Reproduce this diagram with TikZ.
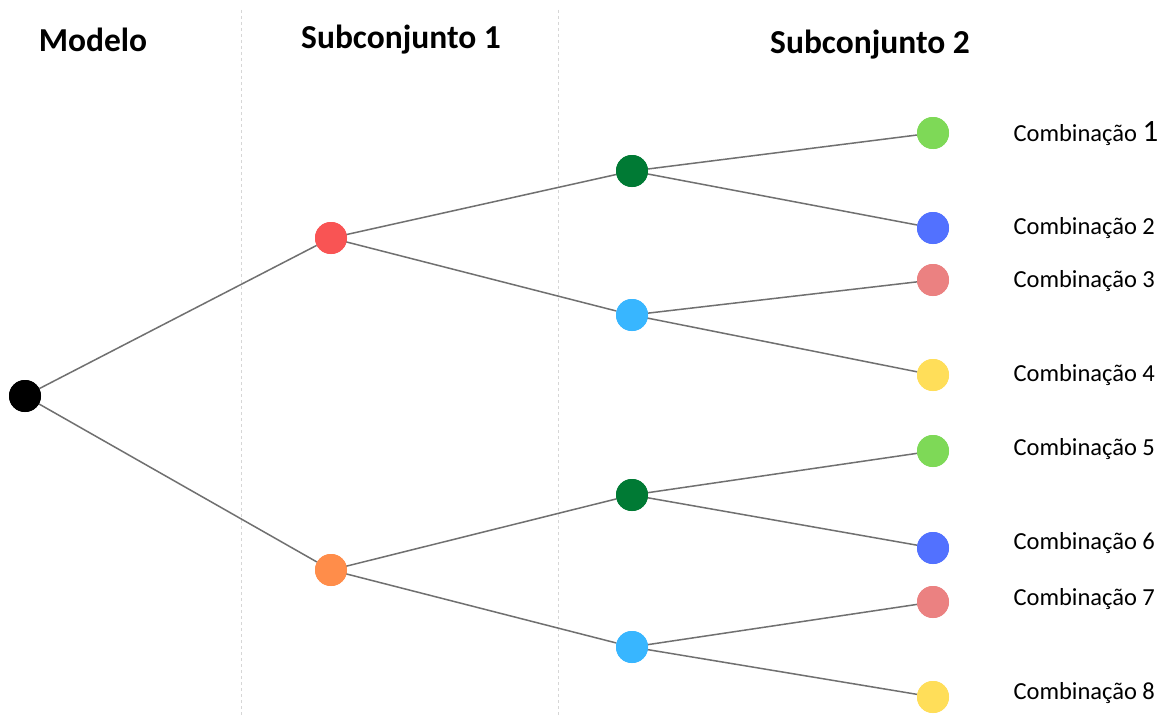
\documentclass[tikz,border=0pt]{standalone}
\usepackage{fontspec}
\setmainfont{Carlito}
\begin{document}
\begin{tikzpicture}[x=1pt,y=-1pt,
  dot/.style={circle,inner sep=0pt,minimum size=32pt,draw=none},
  edge/.style={draw=black!56,line width=1.5pt},
  sep/.style={draw=black!16,line width=0.7pt,dash pattern=on 3pt off 3pt},
  head/.style={font=\fontsize{33.5}{38}\selectfont\bfseries,anchor=center},
  combo/.style={font=\fontsize{24.5}{29}\selectfont,anchor=west}]
\definecolor{cRed}{HTML}{F95454}
\definecolor{cOrange}{HTML}{FF8D4A}
\definecolor{cDark}{HTML}{007A34}
\definecolor{cSky}{HTML}{38B6FF}
\definecolor{cLime}{HTML}{7ED957}
\definecolor{cBlue}{HTML}{5271FF}
\definecolor{cPink}{HTML}{EB8181}
\definecolor{cYellow}{HTML}{FFDE59}
\useasboundingbox (0,0) rectangle (1167,717);
\fill[white] (0,0) rectangle (1167,717);
% column separators
\coordinate (s1t) at (241,10); \coordinate (s1b) at (241,716);
\coordinate (s2t) at (558,10); \coordinate (s2b) at (558,716);
\draw[sep] (s1t) -- (s1b);
\draw[sep] (s2t) -- (s2b);
% headers
\node[head] (h0) at (93,40) {Modelo};
\node[head] (h1) at (401,40) {Subconjunto 1};
\node[head] (h2) at (870,45) {Subconjunto 2};
% tree nodes
\node[dot,fill=black] (r) at (25,396) {};
\node[dot,fill=cRed] (a) at (331,238) {};
\node[dot,fill=cOrange] (b) at (331,570) {};
\node[dot,fill=cDark] (a1) at (632,171) {};
\node[dot,fill=cSky] (a2) at (632,315) {};
\node[dot,fill=cDark] (b1) at (632,495) {};
\node[dot,fill=cSky] (b2) at (632,647) {};
\node[dot,fill=cLime] (l1) at (933,133) {};
\node[dot,fill=cBlue] (l2) at (933,228) {};
\node[dot,fill=cPink] (l3) at (933,280) {};
\node[dot,fill=cYellow] (l4) at (933,375) {};
\node[dot,fill=cLime] (l5) at (933,451) {};
\node[dot,fill=cBlue] (l6) at (933,548) {};
\node[dot,fill=cPink] (l7) at (933,602) {};
\node[dot,fill=cYellow] (l8) at (933,697) {};
% connectors
\foreach \p/\c in {r/a,r/b,a/a1,a/a2,b/b1,b/b2,a1/l1,a1/l2,a2/l3,a2/l4,b1/l5,b1/l6,b2/l7,b2/l8}
  \draw[edge] (\p.center) -- (\c);
% dots painted again over the line ends
\foreach \n/\col in {r/black,a/cRed,b/cOrange,a1/cDark,a2/cSky,b1/cDark,b2/cSky,l1/cLime,l2/cBlue,l3/cPink,l4/cYellow,l5/cLime,l6/cBlue,l7/cPink,l8/cYellow}
  \fill[\col] (\n) circle (16pt);
% labels
\node[combo] (t1) at (1010,134) {Combinação {\fontsize{31}{36}\selectfont 1}};
\node[combo] (t2) at (1010,228) {Combinação 2};
\node[combo] (t3) at (1010,281) {Combinação 3};
\node[combo] (t4) at (1010,375) {Combinação 4};
\node[combo] (t5) at (1010,449) {Combinação 5};
\node[combo] (t6) at (1010,543) {Combinação 6};
\node[combo] (t7) at (1010,599) {Combinação 7};
\node[combo] (t8) at (1010,693) {Combinação 8};
\end{tikzpicture}
\end{document}
